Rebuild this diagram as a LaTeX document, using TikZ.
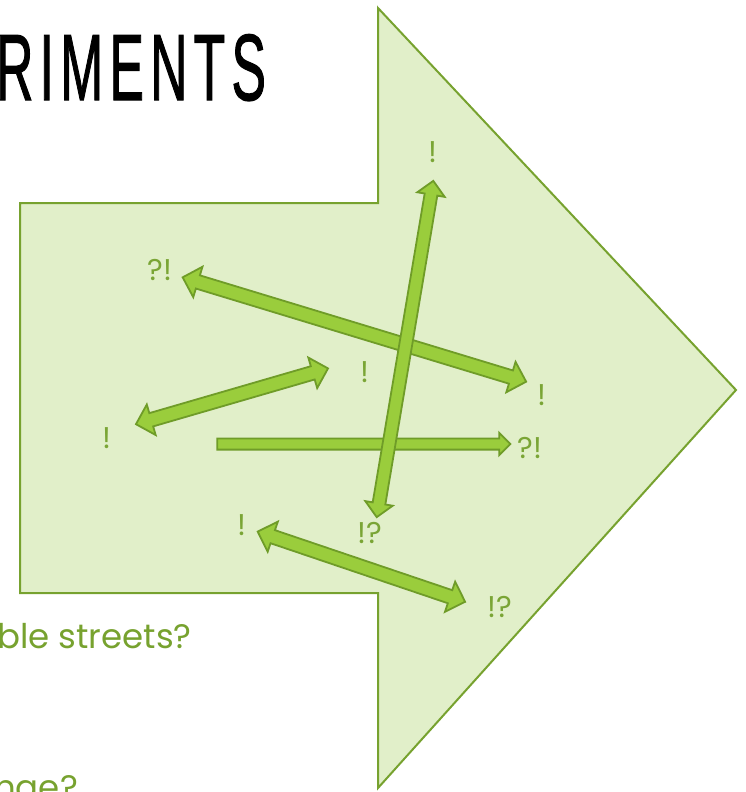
\documentclass[tikz,border=0pt]{standalone}
\usepackage{fontspec}
\setmainfont{Poppins}
\newfontfamily\titlefont{Liberation Sans}[LetterSpace=12, FakeBold=1.5]
\usetikzlibrary{shapes.arrows}

\definecolor{leafline}{HTML}{77A22F}
\definecolor{leaffill}{HTML}{E1EFC9}
\definecolor{arrline}{HTML}{6F9C28}
\definecolor{arrfill}{HTML}{9ACD3C}
\definecolor{labelgreen}{HTML}{7AA535}

\begin{document}
\begin{tikzpicture}[
        x=1pt, y=-1pt,
        shout/.style={text=labelgreen, font=\fontsize{30}{30}\selectfont, inner sep=0pt},
        body/.style={text=leafline, font=\fontsize{34}{40}\selectfont, inner sep=0pt, anchor=base west},
        twohead/.style={double arrow, draw=arrline, fill=arrfill, line width=1.8pt, inner xsep=0pt, inner ysep=6pt, double arrow head extend=9pt, double arrow tip angle=90},
        onehead/.style={single arrow, draw=arrline, fill=arrfill, line width=1.8pt, inner xsep=0pt, inner ysep=4.7pt, single arrow head extend=5.5pt, single arrow tip angle=90}
    ]
        \useasboundingbox (0,0) rectangle (745,792);
        \clip (0,0) rectangle (745,792);

        % Title and slide text
        \node[anchor=base west, inner sep=0pt, xscale=0.55, font=\titlefont\fontsize{94}{100}\selectfont] (title) at (-4,100) {RIMENTS};
        \node[body] (streets) at (-3,648) {ble streets?};
        \node[body] (change) at (-6,799) {nge?};

        % Big arrow
        \draw[leafline, line width=2pt, fill=leaffill] (20,203) -- (378,203) -- (378,8) -- (736,390) -- (378,788) -- (378,593) -- (20,593) -- cycle;

        % Labels
        \node[shout] (top) at (433,152) {!};
        \node[shout] (ql) at (160,270) {?!};
        \node[shout] (mid) at (365,372) {!};
        \node[shout] (right) at (542,395) {!};
        \node[shout] (left) at (107,438) {!};
        \node[shout] (qr) at (530,448) {?!};
        \node[shout] (low) at (242,525) {!};
        \node[shout] (qlow) at (370,533) {!?};
        \node[shout] (qend) at (500,607) {!?};

        % Arrows
        \node[twohead, minimum height=359pt, rotate=-16.9] (long) at (354.4,329.5) {};
        \node[twohead, minimum height=200pt, rotate=16.2] (short) at (232,396.3) {};
        \node[onehead, minimum height=293pt] (flat) at (361,444) {};
        \node[twohead, minimum height=219pt, rotate=-18.7] (bottom) at (361.4,566.7) {};
        \node[twohead, minimum height=341pt, rotate=80.45, inner ysep=5.5pt, double arrow head extend=7.5pt] (steep) at (405,349) {};
    \end{tikzpicture}
\end{document}
